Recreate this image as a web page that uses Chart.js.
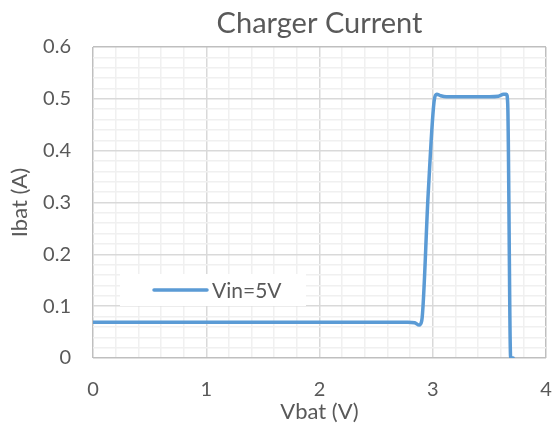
<!DOCTYPE html>
<html>
<head>
<meta charset="utf-8">
<script src="https://cdn.jsdelivr.net/npm/chart.js@4.4.1/dist/chart.umd.min.js"></script>
<style>
  html, body { margin: 0; padding: 0; background: #ffffff; }
  #wrap { width: 553px; height: 432px; position: relative; }
</style>
</head>
<body>
<div id="wrap"><canvas id="c" width="553" height="432"></canvas></div>
<script>
// ---- data ----
const chartTitle = "Charger Current";
const seriesLabel = "Vin=5V";
const xAxisTitle = "Vbat (V)";
const yAxisTitle = "Ibat (A)";
const vbat = [0, 0.5, 1.0, 1.5, 2.0, 2.5, 2.78, 2.84, 2.88, 2.903, 2.96, 3.015, 3.035, 3.07, 3.12, 3.3, 3.5, 3.58, 3.625, 3.65, 3.662, 3.688, 3.71];
const ibat = [0.069, 0.069, 0.069, 0.069, 0.069, 0.069, 0.069, 0.068, 0.0635, 0.072, 0.318, 0.5, 0.509, 0.506, 0.504, 0.504, 0.504, 0.505, 0.509, 0.509, 0.49, 0.0, 0.0];
const xTickValues = [0, 1, 2, 3, 4];
const yTickValues = [0, 0.1, 0.2, 0.3, 0.4, 0.5, 0.6];

const TEXT = "#595959";
const LINE = "#5b9bd5";
const FONT = "Lato, 'Open Sans', sans-serif";

const points = vbat.map((v, i) => ({ x: v, y: ibat[i] }));

function isMajor(v, step) {
  const r = v / step;
  return Math.abs(r - Math.round(r)) < 1e-6;
}

const legendInArea = {
  id: 'legendInArea',
  afterDatasetsDraw(chart) {
    const { ctx, chartArea } = chart;
    const ds = chart.data.datasets[0];
    const bx = chartArea.left + 27, by = chartArea.bottom - 84, bw = 186, bh = 32;
    ctx.save();
    ctx.fillStyle = "#ffffff";
    ctx.fillRect(bx, by, bw, bh);
    const ly = by + bh / 2;
    ctx.strokeStyle = ds.borderColor;
    ctx.lineWidth = 3.5;
    ctx.lineCap = 'round';
    ctx.beginPath();
    ctx.moveTo(bx + 34, ly);
    ctx.lineTo(bx + 87, ly);
    ctx.stroke();
    ctx.fillStyle = TEXT;
    ctx.font = "21px " + FONT;
    ctx.textBaseline = 'middle';
    ctx.textAlign = 'left';
    ctx.fillText(ds.label, bx + 92, ly + 1);
    ctx.restore();
  }
};

new Chart(document.getElementById('c'), {
  type: 'line',
  data: {
    datasets: [{
      label: seriesLabel,
      data: points,
      borderColor: LINE,
      backgroundColor: LINE,
      borderWidth: 3.5,
      borderCapStyle: 'round',
      borderJoinStyle: 'round',
      pointRadius: 0,
      cubicInterpolationMode: 'monotone',
      fill: false
    }]
  },
  options: {
    responsive: false,
    animation: false,
    devicePixelRatio: 1,
    layout: { padding: { left: 0, right: 7, top: 0, bottom: 0 } },
    plugins: {
      legend: { display: false },
      tooltip: { enabled: false },
      title: {
        display: true,
        text: chartTitle,
        fullSize: false,
        color: TEXT,
        font: { family: FONT, size: 29, weight: 'normal', lineHeight: 1.2 },
        padding: { top: 6, bottom: 6.2 }
      }
    },
    scales: {
      x: {
        type: 'linear',
        min: xTickValues[0],
        max: xTickValues[xTickValues.length - 1],
        afterFit(s) { s.height = 74; s.paddingRight = 0; s.paddingLeft = 0; },
        border: { display: false },
        grid: {
          drawTicks: false,
          lineWidth: 1.5,
          color(c) {
            const v = c.tick.value;
            if (v === 0 || v === 4) return "#bfbfbf";
            return isMajor(v, 1) ? "#d9d9d9" : "#f0f0f0";
          }
        },
        ticks: {
          stepSize: 0.2,
          autoSkip: false,
          maxRotation: 0,
          padding: 20,
          color: TEXT,
          font: { family: FONT, size: 20 },
          callback(v) { return isMajor(v, 1) && xTickValues.includes(Math.round(v)) ? String(Math.round(v)) : ''; }
        },
        title: {
          display: true,
          text: xAxisTitle,
          color: TEXT,
          font: { family: FONT, size: 22, lineHeight: 1.2 },
          padding: { top: 0, bottom: 7 }
        }
      },
      y: {
        type: 'linear',
        min: yTickValues[0],
        max: yTickValues[yTickValues.length - 1],
        afterFit(s) { s.width = 93; s.paddingTop = 0; s.paddingBottom = 0; },
        border: { display: false },
        grid: {
          drawTicks: false,
          lineWidth: 1.5,
          color(c) {
            const v = c.tick.value;
            if (Math.abs(v) < 1e-9 || Math.abs(v - 0.6) < 1e-9) return "#bfbfbf";
            return isMajor(v, 0.1) ? "#d9d9d9" : "#f0f0f0";
          }
        },
        ticks: {
          stepSize: 0.02,
          autoSkip: false,
          padding: 22,
          color: TEXT,
          font: { family: FONT, size: 20 },
          callback(v) {
            if (!isMajor(v, 0.1)) return '';
            const r = Math.round(v * 10) / 10;
            return r === 0 ? '0' : r.toFixed(1);
          }
        },
        title: {
          display: true,
          text: yAxisTitle,
          color: TEXT,
          font: { family: FONT, size: 22, lineHeight: 1.2 },
          padding: { top: 7, bottom: 0 }
        }
      }
    }
  },
  plugins: [legendInArea]
});
</script>
</body>
</html>
